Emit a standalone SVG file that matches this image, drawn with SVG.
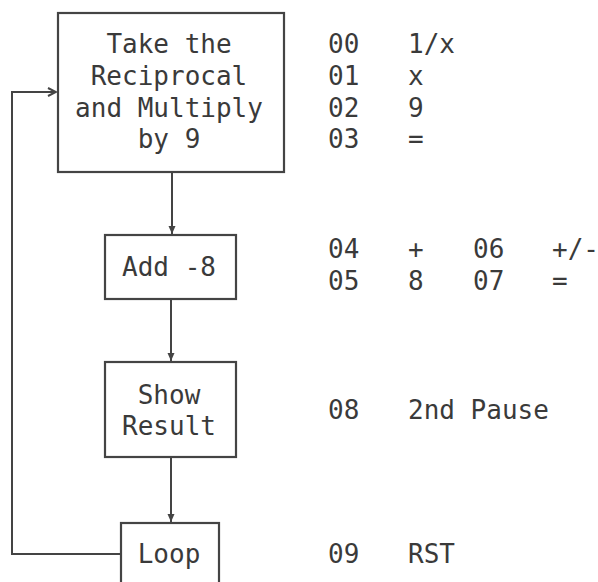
<svg xmlns="http://www.w3.org/2000/svg" width="598" height="582" viewBox="0 0 598 582">
<style>
.box{fill:#fff;stroke:#444;stroke-width:2.2}
.t{font-family:"DejaVu Sans Mono","Liberation Mono",monospace;font-size:26px;fill:#3a3a3a}
.c{text-anchor:middle}
.ln{fill:none;stroke:#444;stroke-width:2}
</style>
<defs>
<marker id="ah" markerWidth="10" markerHeight="10" refX="9" refY="5" orient="auto" markerUnits="userSpaceOnUse">
<path d="M1,1 L9,5 L1,9" fill="none" stroke="#444" stroke-width="2"/>
</marker>
<marker id="ad" markerWidth="10" markerHeight="10" refX="9" refY="5" orient="auto" markerUnits="userSpaceOnUse">
<path d="M1,1.5 L9,5 L1,8.5 Z" fill="#444"/>
</marker>
</defs>
<rect width="598" height="582" fill="#fff"/>
<g id="connectors">
<path class="ln" d="M121,554 H12 V92 H56" marker-end="url(#ah)"/>
<path class="ln" d="M172,172 V234" marker-end="url(#ad)"/>
<path class="ln" d="M171,299 V361" marker-end="url(#ad)"/>
<path class="ln" d="M171,457 V522" marker-end="url(#ad)"/>
</g>
<g id="n1">
<rect class="box" x="58" y="13" width="226" height="159"/>
<text class="t c" x="169" y="53">Take the</text>
<text class="t c" x="169" y="85">Reciprocal</text>
<text class="t c" x="169" y="117">and Multiply</text>
<text class="t c" x="169" y="148">by 9</text>
</g>
<g id="n2">
<rect class="box" x="105" y="235" width="131" height="64"/>
<text class="t c" x="169" y="276">Add -8</text>
</g>
<g id="n3">
<rect class="box" x="105" y="362" width="131" height="95"/>
<text class="t c" x="169" y="404">Show</text>
<text class="t c" x="169" y="435">Result</text>
</g>
<g id="n4">
<rect class="box" x="121" y="523" width="98" height="70"/>
<text class="t c" x="169" y="563">Loop</text>
</g>
<g id="program">
<text class="t" x="328" y="53">00</text><text class="t" x="408" y="53">1/x</text>
<text class="t" x="328" y="85">01</text><text class="t" x="408" y="85">x</text>
<text class="t" x="328" y="117">02</text><text class="t" x="408" y="117">9</text>
<text class="t" x="328" y="148">03</text><text class="t" x="408" y="148">=</text>
<text class="t" x="328" y="258">04</text><text class="t" x="408" y="258">+</text>
<text class="t" x="473" y="258">06</text><text class="t" x="552" y="258">+/-</text>
<text class="t" x="328" y="290">05</text><text class="t" x="408" y="290">8</text>
<text class="t" x="473" y="290">07</text><text class="t" x="552" y="290">=</text>
<text class="t" x="328" y="419">08</text><text class="t" x="408" y="419">2nd Pause</text>
<text class="t" x="328" y="563">09</text><text class="t" x="408" y="563">RST</text>
</g>
</svg>
